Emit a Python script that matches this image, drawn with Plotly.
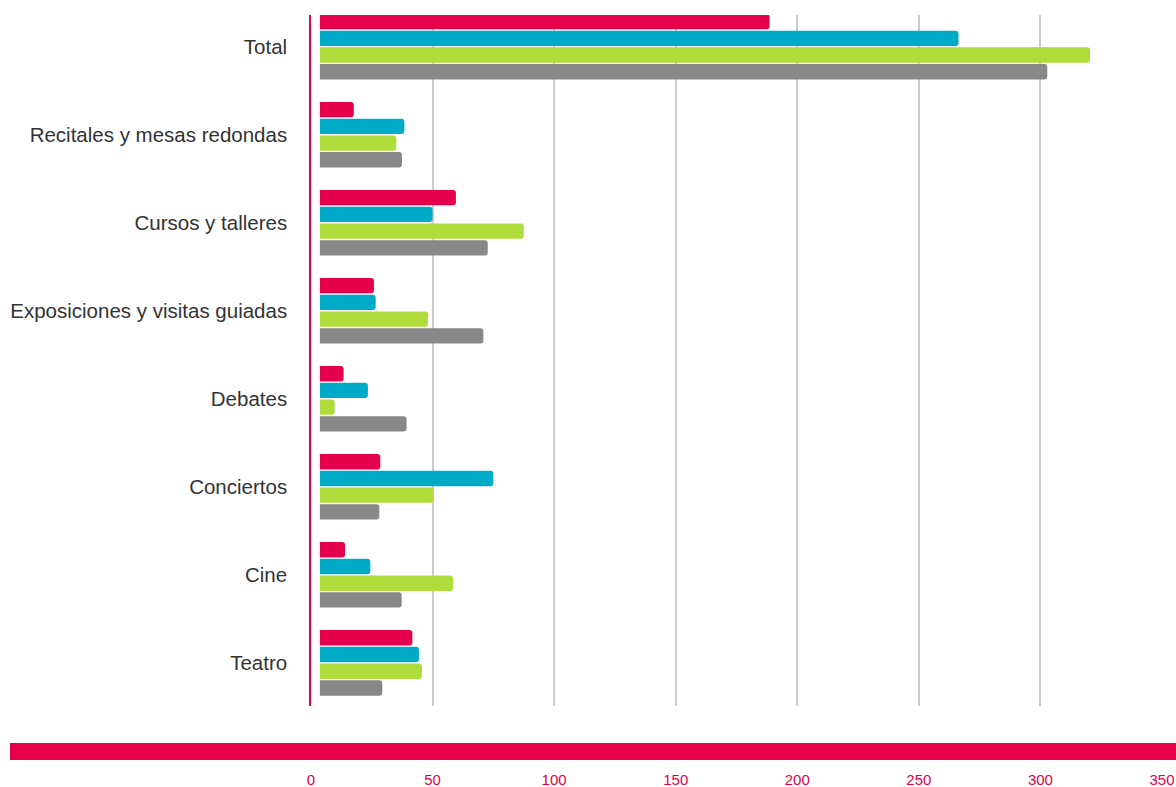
import plotly.graph_objects as go

categories = ["Teatro", "Cine", "Conciertos", "Debates",
              "Exposiciones y visitas guiadas", "Cursos y talleres",
              "Recitales y mesas redondas", "Total"]

serie_rosa = [41.7, 14.0, 28.5, 13.4, 25.9, 59.6, 17.6, 188.6]
serie_cian = [44.4, 24.4, 75.0, 23.4, 26.6, 50.0, 38.4, 266.3]
serie_verde = [45.6, 58.4, 50.4, 9.7, 48.1, 87.5, 35.1, 320.4]
serie_gris = [29.3, 37.3, 28.1, 39.3, 70.9, 72.7, 37.4, 302.8]

x_ticks = [0, 50, 100, 150, 200, 250, 300, 350]

series = [
    ("Serie 4", serie_gris, "#888888"),
    ("Serie 3", serie_verde, "#AEDC3B"),
    ("Serie 2", serie_cian, "#00ABC7"),
    ("Serie 1", serie_rosa, "#E5004B"),
]

fig = go.Figure()
for name, vals, color in series:
    fig.add_trace(go.Bar(
        y=categories, x=vals, name=name, orientation="h",
        marker=dict(color=color, line=dict(width=0)),
        showlegend=False,
    ))

pink = "#E5004B"
W, H = 1176, 787
ml, mr, mt, mb = 311, 14, 15, 81
pw = W - ml - mr
ph = H - mt - mb

fig.update_layout(
    width=W, height=H,
    margin=dict(l=ml, r=mr, t=mt, b=mb, pad=0, autoexpand=False),
    barmode="group", bargap=0.24, bargroupgap=0.08,
    barcornerradius=3,
    plot_bgcolor="white", paper_bgcolor="white",
    font=dict(family="Liberation Sans, Arial, sans-serif", color="#333333"),
    xaxis=dict(
        range=[0, 350], tickvals=x_ticks, showgrid=True,
        gridcolor="#CCCCCC", gridwidth=1.5, zeroline=False,
        showline=False, ticks="", ticklabelstandoff=63,
        tickfont=dict(size=15, color=pink), automargin=False,
    ),
    yaxis=dict(
        categoryorder="array", categoryarray=categories,
        range=[-0.49, 7.36], showgrid=False, zeroline=False,
        showline=True, linecolor=pink, linewidth=1.5,
        ticks="", ticklabelstandoff=18,
        tickfont=dict(size=20.5, color="#333333"), automargin=False,
    ),
    shapes=[
        # inset at bar starts
        dict(type="rect", xref="x", yref="paper",
             x0=0, x1=3.65, y0=0, y1=1,
             fillcolor="white", line=dict(width=0), layer="above"),
        # thick pink band under the chart
        dict(type="rect", xref="paper", yref="paper",
             x0=(10 - ml) / pw, x1=(W - ml) / pw + 0.01,
             y0=(ph - (760 - mt)) / ph, y1=(ph - (743 - mt)) / ph,
             fillcolor=pink, line=dict(width=0), layer="above"),
    ],
)

fig.write_html(
    "out.html",
    config={"displayModeBar": False},
    post_script="document.body.style.margin='0';document.body.style.overflow='hidden';",
)
